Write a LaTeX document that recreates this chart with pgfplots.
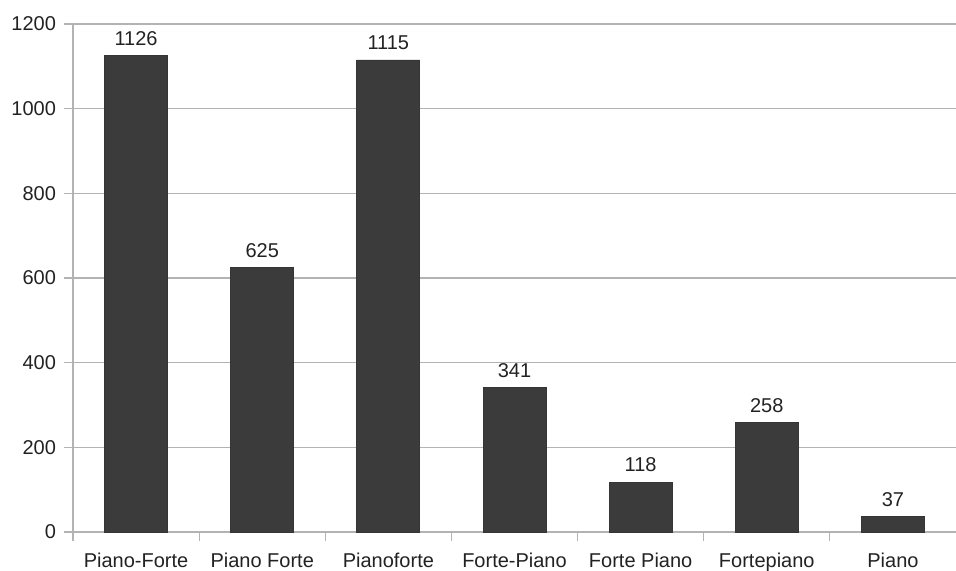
\documentclass[border=0pt]{standalone}
\usepackage{pgfplots}
\pgfplotsset{compat=1.18}
\usepackage{fontspec}
\setmainfont{Liberation Sans}
\definecolor{barfill}{HTML}{3B3B3B}
\definecolor{gridgray}{HTML}{B3B3B3}
\definecolor{labeltext}{HTML}{222222}
\begin{document}
\begin{tikzpicture}
\begin{axis}[
  at={(36.5pt,19.5pt)}, anchor=south west,
  scale only axis,
  width=441.5pt, height=254pt,
  xmin=-0.5, xmax=6.5,
  ymin=0, ymax=1200,
  ytick={0,200,...,1200},
  xtick={0,...,6},
  xticklabels={Piano-Forte,Piano Forte,Pianoforte,Forte-Piano,Forte Piano,Fortepiano,Piano},
  minor xtick={-0.5,0.5,...,5.5},
  major x tick style={draw=none},
  minor x tick style={draw=gridgray, line width=0.6pt},
  minor tick length=4.5pt,
  ytick style={draw=gridgray, line width=0.6pt},
  major tick length=4.5pt,
  tick align=outside,
  axis x line*=bottom, axis y line*=left,
  axis line style={draw=gridgray, line width=0.6pt, -},
  ymajorgrids,
  grid style={draw=gridgray, line width=0.6pt},
  /pgf/number format/assume math mode=true,
  /pgf/number format/1000 sep={},
  tick label style={font=\fontsize{10}{12}\selectfont, text=labeltext},
  yticklabel style={xshift=-0.5pt},
  xticklabel style={yshift=-2.5pt},
  ybar, bar width=31.5pt,
  nodes near coords,
  every node near coord/.append style={font=\fontsize{10}{12}\selectfont, text=labeltext, yshift=1.5pt},
  clip=false,
]
\addplot[fill=barfill, draw=barfill!90!black] coordinates {
  (0,1126) (1,625) (2,1115) (3,341) (4,118) (5,258) (6,37)
};
\end{axis}
\pgfresetboundingbox
\path[use as bounding box] (0,0) rectangle (478pt,285.5pt);
\end{tikzpicture}
\end{document}
